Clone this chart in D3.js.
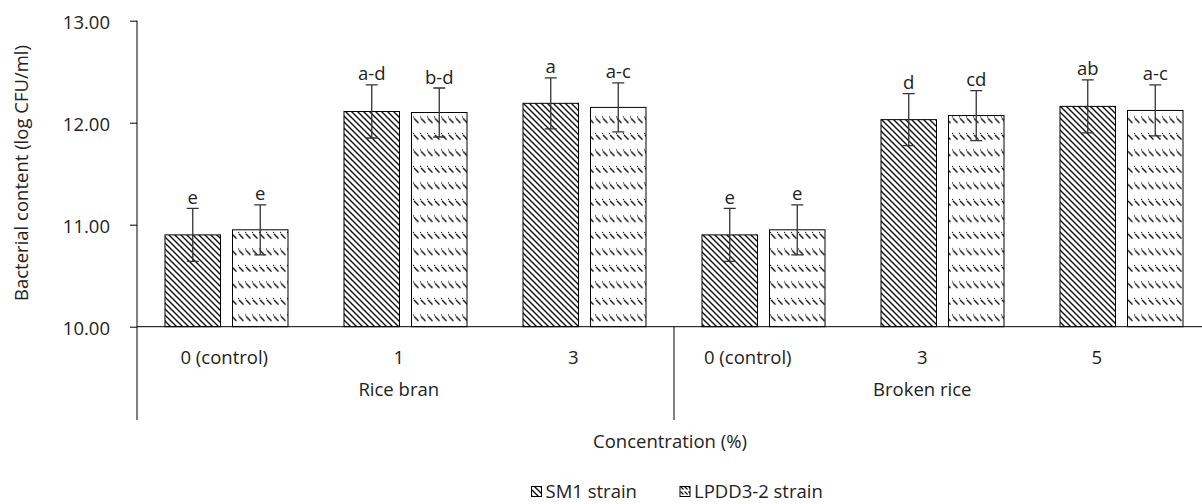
<!DOCTYPE html>
<html>
<head>
<meta charset="utf-8">
<script src="https://cdn.jsdelivr.net/npm/d3@7/dist/d3.min.js"></script>
<style>
  html, body { margin: 0; padding: 0; background: #fff; }
  svg { display: block; }
  text { font-family: "Open Sans", "Noto Sans", sans-serif; fill: #222; }
</style>
</head>
<body>
<svg id="chart" width="1202" height="504"></svg>
<script>
// Bacterial content by substrate and concentration
const categories = ["0 (control)", "1", "3", "0 (control)", "3", "5"];
const groups = ["Rice bran", "Broken rice"];
const seriesNames = ["SM1 strain", "LPDD3-2 strain"];
const sm1Values = [10.90, 12.11, 12.19, 10.90, 12.03, 12.16];
const sm1Errors = [0.26, 0.26, 0.25, 0.26, 0.255, 0.26];
const lpddValues = [10.95, 12.10, 12.15, 10.95, 12.07, 12.12];
const lpddErrors = [0.245, 0.24, 0.24, 0.245, 0.245, 0.25];
const sm1Letters = ["e", "a-d", "a", "e", "d", "ab"];
const lpddLetters = ["e", "b-d", "a-c", "e", "cd", "a-c"];
const yTicks = [10, 11, 12, 13];

const svg = d3.select("#chart");
const fontSize = 18.5;

// Hatch fills
const defs = svg.append("defs");
const pSm1 = defs.append("pattern").attr("id", "hatch-sm1")
  .attr("patternUnits", "userSpaceOnUse").attr("width", 6).attr("height", 6);
pSm1.append("rect").attr("width", 6).attr("height", 6).attr("fill", "#fff");
pSm1.append("path").attr("d", "M0,0L6,6M-1,5L1,7M5,-1L7,1")
  .attr("stroke", "#111").attr("stroke-width", 1.4);

const pLpdd = defs.append("pattern").attr("id", "hatch-lpdd")
  .attr("patternUnits", "userSpaceOnUse").attr("width", 7).attr("height", 16.5);
pLpdd.append("rect").attr("width", 7).attr("height", 16.5).attr("fill", "#fff");
pLpdd.append("path").attr("d", "M1,3L5.5,7.5")
  .attr("stroke", "#111").attr("stroke-width", 1.4);
pLpdd.append("circle").attr("cx", 0.5).attr("cy", 1.5).attr("r", 0.7).attr("fill", "#111");

// Compact version of the dashed hatch for the small legend key
const pLpddKey = defs.append("pattern").attr("id", "hatch-lpdd-key")
  .attr("patternUnits", "userSpaceOnUse").attr("width", 4).attr("height", 5)
  .attr("x", 0).attr("y", 1);
pLpddKey.append("rect").attr("width", 4).attr("height", 5).attr("fill", "#fff");
pLpddKey.append("path").attr("d", "M0.5,0.5L3.5,3.5")
  .attr("stroke", "#111").attr("stroke-width", 1.2);

const fills = ["url(#hatch-sm1)", "url(#hatch-lpdd)"];
const keyFills = ["url(#hatch-sm1)", "url(#hatch-lpdd-key)"];

// Scales
const y = d3.scaleLinear().domain([10, 13]).range([326.7, 20.7]);
const idx = d3.range(categories.length);
const x = d3.scaleBand().domain(idx).range([137, 1211]).padding(0);
const xLabel = d3.scaleBand().domain(idx).range([137, 1184]).padding(0);
const xSeries = d3.scaleBand().domain([0, 1]).range([0, x.bandwidth()])
  .paddingInner(0.1778).paddingOuter(0.4148);

// Y axis
const yAxis = d3.axisLeft(y).tickValues(yTicks).tickFormat(d3.format(".2f"))
  .tickSizeOuter(0).tickSizeInner(7).tickPadding(20);
const gy = svg.append("g").attr("transform", "translate(137,0)").call(yAxis);
gy.select(".domain").remove();
gy.selectAll(".tick line").attr("stroke", "#000");
gy.selectAll(".tick text").attr("font-size", fontSize).attr("fill", "#222")
  .attr("font-family", "Open Sans, Noto Sans, sans-serif").attr("dy", "0.4em");

// Bars
const rows = idx.map(i => [
  { i, s: 0, v: sm1Values[i], e: sm1Errors[i], l: sm1Letters[i] },
  { i, s: 1, v: lpddValues[i], e: lpddErrors[i], l: lpddLetters[i] }
]).flat();

const g = svg.append("g");
g.selectAll("rect.bar").data(rows).join("rect").attr("class", "bar")
  .attr("x", d => x(d.i) + xSeries(d.s))
  .attr("width", xSeries.bandwidth())
  .attr("y", d => y(d.v))
  .attr("height", d => y(10) - y(d.v))
  .attr("fill", d => fills[d.s])
  .attr("stroke", "#000").attr("stroke-width", 1);

// Error bars
const cx = d => x(d.i) + xSeries(d.s) + xSeries.bandwidth() / 2;
const capW = 6;
g.selectAll("path.err").data(rows).join("path").attr("class", "err")
  .attr("d", d => {
    const c = cx(d), t = y(d.v + d.e), b = y(d.v - d.e);
    return `M${c},${b}V${t}M${c - capW},${t}H${c + capW}M${c - capW},${b}H${c + capW}`;
  })
  .attr("fill", "none").attr("stroke", "#333").attr("stroke-width", 1.3);

// Significance letters
g.selectAll("text.sig").data(rows).join("text").attr("class", "sig")
  .attr("x", cx).attr("y", d => y(d.v + d.e) - 4.5)
  .attr("text-anchor", "middle").attr("font-size", fontSize).text(d => d.l);

// Axis lines
svg.append("line").attr("x1", 137).attr("x2", 137).attr("y1", y(13)).attr("y2", 420)
  .attr("stroke", "#000");
svg.append("line").attr("x1", 137).attr("x2", 1211).attr("y1", y(10)).attr("y2", y(10))
  .attr("stroke", "#000");
// Group separators
[3, 6].forEach(k => {
  const sx = k < 6 ? x(k) : x.range()[1];
  svg.append("line").attr("x1", sx).attr("x2", sx).attr("y1", y(10)).attr("y2", 420)
    .attr("stroke", "#000");
});

// Category labels
svg.append("g").selectAll("text").data(idx).join("text")
  .attr("x", i => xLabel(i) + xLabel.bandwidth() / 2).attr("y", 364)
  .attr("text-anchor", "middle").attr("font-size", fontSize).text(i => categories[i]);

// Group labels
svg.append("g").selectAll("text").data(groups).join("text")
  .attr("x", (d, k) => xLabel(k * 3) + xLabel.bandwidth() * 1.5).attr("y", 396)
  .attr("text-anchor", "middle").attr("font-size", fontSize).text(d => d);

// Axis titles
svg.append("text").attr("x", 670).attr("y", 448).attr("text-anchor", "middle")
  .attr("font-size", fontSize).text("Concentration (%)");
svg.append("text").attr("transform", "translate(28,173) rotate(-90)")
  .attr("text-anchor", "middle").attr("font-size", fontSize)
  .text("Bacterial content (log CFU/ml)");

// Legend
const legendX = [531.5, 680];
const lg = svg.append("g");
seriesNames.forEach((name, k) => {
  lg.append("rect").attr("x", legendX[k]).attr("y", 486.5).attr("width", 10).attr("height", 10)
    .attr("fill", keyFills[k]).attr("stroke", "#000").attr("stroke-width", 1);
  lg.append("text").attr("x", legendX[k] + 14).attr("y", 498)
    .attr("font-size", fontSize).text(name);
});
</script>
</body>
</html>
